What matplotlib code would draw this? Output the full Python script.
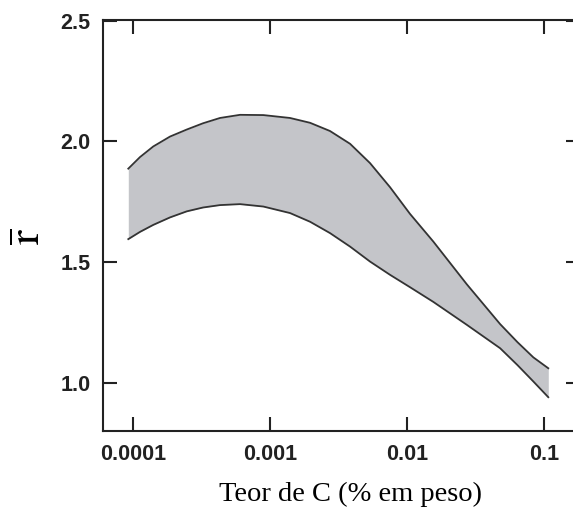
import numpy as np
import matplotlib
matplotlib.use('Agg')
import matplotlib.pyplot as plt

# teor de C (% em peso) and the upper / lower limits of r-bar
teor_c = [9.24e-5, 1.125e-4, 1.406e-4, 1.863e-4, 2.466e-4, 3.243e-4, 4.315e-4,
          6.04e-4, 8.94e-4, 1.40e-3, 1.96e-3, 2.74e-3, 3.84e-3, 5.37e-3, 7.52e-3,
          1.05e-2, 1.555e-2, 2.73e-2, 4.78e-2, 6.4e-2, 8.36e-2, 1.074e-1]
r_sup = [1.887, 1.935, 1.979, 2.02, 2.049, 2.075, 2.097,
         2.11, 2.109, 2.097, 2.077, 2.043, 1.99, 1.91, 1.81,
         1.70, 1.585, 1.408, 1.243, 1.168, 1.105, 1.06]
r_inf = [1.595, 1.625, 1.654, 1.685, 1.71, 1.726, 1.736,
         1.740, 1.730, 1.703, 1.667, 1.620, 1.564, 1.502, 1.447,
         1.396, 1.335, 1.24, 1.143, 1.073, 1.005, 0.94]

xticks = [0.0001, 0.001, 0.01, 0.1]
xlabels = ['0.0001', '0.001', '0.01', '0.1']
yticks = [1.0, 1.5, 2.0, 2.5]

plt.rcParams['mathtext.fontset'] = 'stix'

fig = plt.figure(figsize=(5.73, 5.12), dpi=100)
ax = fig.add_axes([103/573, 81/512, 477/573, 411.5/512])

ax.fill_between(teor_c, r_inf, r_sup, color='#c4c5c9', lw=0)
ax.plot(teor_c, r_sup, color='#333333', lw=1.3)
ax.plot(teor_c, r_inf, color='#333333', lw=1.3)

ax.set_xscale('log')
ax.set_xlim(6.04e-5, 0.183)
ax.set_ylim(0.8, 2.505)
ax.set_xticks(xticks)
ax.set_xticklabels(xlabels)
ax.minorticks_off()
ax.set_yticks(yticks)
ax.set_yticklabels(['%.1f' % v for v in yticks])

for s in ax.spines.values():
    s.set_linewidth(1.5)
    s.set_color('#222222')
ax.tick_params(direction='in', length=10, width=1.5, color='#222222',
               top=True, right=True, labelsize=15.5, labelcolor='#222222', pad=9)
for lab in ax.get_xticklabels() + ax.get_yticklabels():
    lab.set_fontfamily('Liberation Sans')
    lab.set_fontweight('bold')

fig.text(350/573, 0.035, 'Teor de C (% em peso)', ha='center', va='center',
         fontsize=20.5, family='Liberation Serif')
fig.text(28/573, 275/512, r'$\overline{\mathrm{r}}$', ha='center', va='center',
         fontsize=32, rotation=90)

fig.savefig('out.png', dpi=100)
